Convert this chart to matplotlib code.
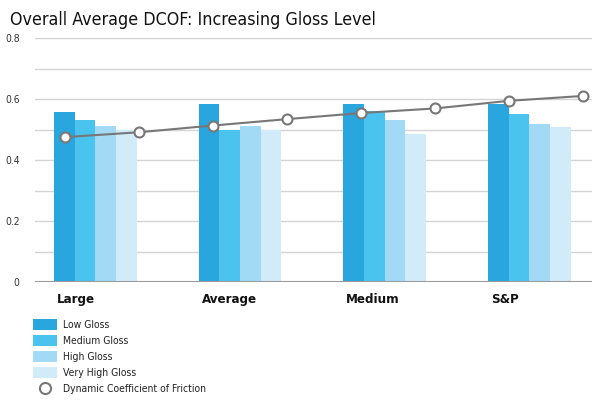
import matplotlib
matplotlib.use("Agg")
import matplotlib.pyplot as plt
import numpy as np
from matplotlib.patches import Patch
from matplotlib.lines import Line2D
from matplotlib import font_manager

categories = ["Large", "Average", "Medium", "S&P"]
series_names = ["Low Gloss", "Medium Gloss", "High Gloss", "Very High Gloss"]
low_gloss = [0.558, 0.582, 0.582, 0.583]
medium_gloss = [0.530, 0.500, 0.560, 0.550]
high_gloss = [0.510, 0.510, 0.530, 0.519]
very_high_gloss = [0.500, 0.500, 0.485, 0.509]
dcof_label = "Dynamic Coefficient of Friction"
dcof = [0.475, 0.491, 0.513, 0.534, 0.554, 0.569, 0.594, 0.610]
yticks = [0, 0.2, 0.4, 0.6, 0.8]
ytick_labels = ["0", "0.2", "0.4", "0.6", "0.8"]
title = "Overall Average DCOF: Increasing Gloss Level"

colors = ["#2aa6df", "#4bc3ef", "#a2d9f4", "#d2ebf9"]
fam = "DejaVu Sans"
for f in font_manager.fontManager.ttflist:
    if "DejaVuSansCondensed" in f.fname.replace("-", "").replace("_", ""):
        fam = f.name
        break
STRETCH = "condensed"
narrow = [fam]

fig = plt.figure(figsize=(6.0, 4.01), dpi=100)
ax = fig.add_axes([35/600, 1-282/401, (592-35)/600, (282-38)/401])

bw = 0.143
series = [low_gloss, medium_gloss, high_gloss, very_high_gloss]
x = np.arange(len(categories))
for j, (vals, c) in enumerate(zip(series, colors)):
    ax.bar(x + bw*(j+0.5), vals, width=bw, color=c, zorder=2, linewidth=0)

xl = np.linspace(0.076, 3.656, len(dcof))
ax.plot(xl, dcof, color="#777777", lw=1.5, marker="o", ms=7.2,
        mfc="white", mec="#777777", mew=1.5, zorder=3)

ax.set_xlim(-0.131, 3.718)
ax.set_ylim(0, 0.8)
for y in np.arange(0.1, 0.81, 0.1):
    ax.axhline(y, color="#d4d4d4", lw=1, zorder=1)
ax.axhline(0, color="#9a9a9a", lw=1.5, zorder=4)
for s in ax.spines.values():
    s.set_visible(False)
ax.set_yticks(yticks)
ax.set_yticklabels(ytick_labels, family=narrow, stretch=STRETCH, fontsize=7.5,
                   color="#333333")
ax.tick_params(axis="y", length=0, pad=11)
ax.set_xticks(x + 0.02)
ax.set_xticklabels(categories, family=narrow, stretch=STRETCH, fontsize=9.5,
                   fontweight="bold", ha="left", color="#111111")
ax.tick_params(axis="x", length=0, pad=8)

fig.text(10/600, 1-20/401, title, family=narrow, stretch=STRETCH, fontsize=12.8,
         va="center", ha="left", color="#111111")

handles = [Patch(facecolor=c, edgecolor="none") for c in colors]
handles.append(Line2D([], [], color="none", marker="o", ms=8, mfc="white",
                      mec="#777777", mew=1.5))
labels = series_names + [dcof_label]
leg = fig.legend(handles, labels, loc="upper left",
                 bbox_to_anchor=(33/600, 1-319/401), frameon=False,
                 handlelength=2.3, handleheight=1.2, labelspacing=0.5,
                 handletextpad=0.6, borderpad=0, borderaxespad=0,
                 prop={"family": narrow, "stretch": STRETCH, "size": 7.5})
for t in leg.get_texts():
    t.set_color("#222222")

fig.savefig("out.png", dpi=100)
